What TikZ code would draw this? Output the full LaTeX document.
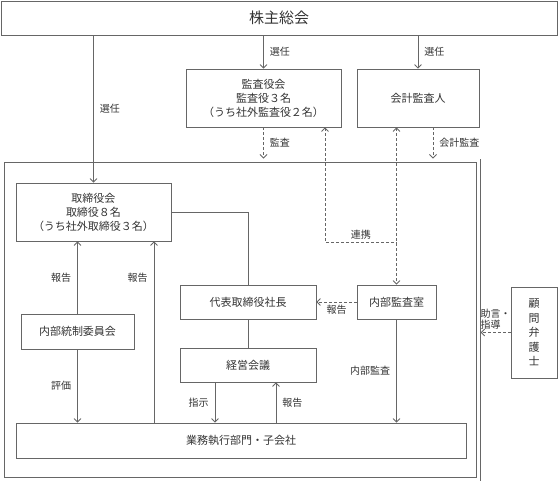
\documentclass[tikz,border=0pt]{standalone}
\usepackage{fontspec}
\setmainfont{Noto Sans CJK JP}
\usepackage{tikz}
\usetikzlibrary{arrows.meta,positioning}
\definecolor{linegray}{HTML}{666666}
\definecolor{textgray}{HTML}{333333}
\tikzset{
  every picture/.style = {
    line width = 0.8pt,
    draw = linegray,
    >={Straight Barb[length=3.5pt,width=7pt]},
    x = 1pt,
    y = -1pt
  }
  ,
  box/.style = {
    rectangle,
    draw = linegray,
    text = textgray,
    font = \fontsize{11}{14}\selectfont,
    align = center,
    inner sep = 0pt
  }
  , % the double frame round the company
  frame/.style = {
    rectangle,
    draw = linegray,
    double,
    double distance = 2.7pt,
    outer sep = 2.2pt,
    inner sep = 0pt
  }
  , % labels of edges
  label-edge/.style = {
    font = \fontsize{10}{11}\selectfont,
    text = textgray,
    inner sep = 6pt
  }
  ,
  audit/.style = {
    dash pattern = on 3pt off 2pt
  }
}
\begin{document}
\begin{tikzpicture}
    \useasboundingbox (0,0) rectangle (558,482);

    \node [box, minimum width=556pt, minimum height=34pt, font=\fontsize{15}{18}\selectfont] (soukai) at (279,18) {株主総会};
    \node [box, minimum width=155pt, minimum height=58pt] (kansayaku) at (263.5,98) {監査役会\\監査役３名\\（うち社外監査役２名）};
    \node [box, minimum width=122pt, minimum height=58pt] (kaikei) at (418,98) {会計監査人};

    \node [frame, minimum width=475.75pt, minimum height=318.5pt] (group) at (240.6,320) {};

    \node [box, minimum width=155pt, minimum height=58pt] (torishimari) at (93.5,212) {取締役会\\取締役８名\\（うち社外取締役３名）};
    \node [box, minimum width=136pt, minimum height=34pt] (shacho) at (248,302) {代表取締役社長};
    \node [box, minimum width=79pt, minimum height=34pt] (naibu) at (396.5,302) {内部監査室};
    \node [box, minimum width=113pt, minimum height=35pt] (iinkai) at (77.5,331.5) {内部統制委員会};
    \node [box, minimum width=136pt, minimum height=34pt] (keiei) at (248,365) {経営会議};
    \node [box, minimum width=450pt, minimum height=35pt] (gyomu) at (241,440.5) {業務執行部門・子会社};
    \node [box, minimum width=46pt, minimum height=91pt, font=\fontsize{11}{14.5}\selectfont] (komon) at (534,332.5) {顧\\問\\弁\\護\\士};

    \coordinate (kk) at ([xshift=15pt]kaikei.south);
    \coordinate (renkei) at (325,242);
    \coordinate (rep) at (154,0);
    \coordinate (shiji) at (215,0);
    \coordinate (houkoku) at (276,0);

    % election by the shareholders
    \draw[->] (soukai.south -| torishimari.north) -- node [label-edge, right] {選任} (torishimari.north);
    \draw[->] (soukai.south -| kansayaku.north) -- node [label-edge, right] {選任} (kansayaku.north);
    \draw[->] (soukai.south -| kaikei.north) -- node [label-edge, right] {選任} (kaikei.north);

    % audits
    \draw[->, audit] (kansayaku.south) -- node [label-edge, right] {監査} (kansayaku.south |- group.north);
    \draw[->, audit] (kk) -- node [label-edge, right] {会計監査} (kk |- group.north);
    \draw[<-, audit] (kansayaku.south -| renkei) -- (renkei) -- node [label-edge, above, inner sep=2pt] {連携} (renkei -| naibu.north);
    \draw[<->, audit] (kaikei.south -| naibu.north) -- (naibu.north);
    \draw[->, audit] (naibu.west) -- node [label-edge, below, inner sep=3pt] {報告} (shacho.east);
    \draw[->, audit] (komon.west) -- node [label-edge, above, align=left, inner sep=3pt, font=\fontsize{10}{10.5}\selectfont] {助言・\\指導} (komon.west -| group.east);

    % inside the company
    \draw (torishimari.east) -| (shacho.north);
    \draw (shacho.south) -- (keiei.north);
    \draw[->] (iinkai.north) -- node [label-edge, left] {報告} (iinkai.north |- torishimari.south);
    \draw[->] (gyomu.north -| rep) -- node [label-edge, left, pos=0.8] {報告} (torishimari.south -| rep);
    \draw[->] (iinkai.south) -- node [label-edge, left] {評価} (iinkai.south |- gyomu.north);
    \draw[->] (keiei.south -| shiji) -- node [label-edge, left] {指示} (gyomu.north -| shiji);
    \draw[->] (gyomu.north -| houkoku) -- node [label-edge, right] {報告} (keiei.south -| houkoku);
    \draw[->] (naibu.south) -- node [label-edge, left] {内部監査} (naibu.south |- gyomu.north);

\end{tikzpicture}
\end{document}
